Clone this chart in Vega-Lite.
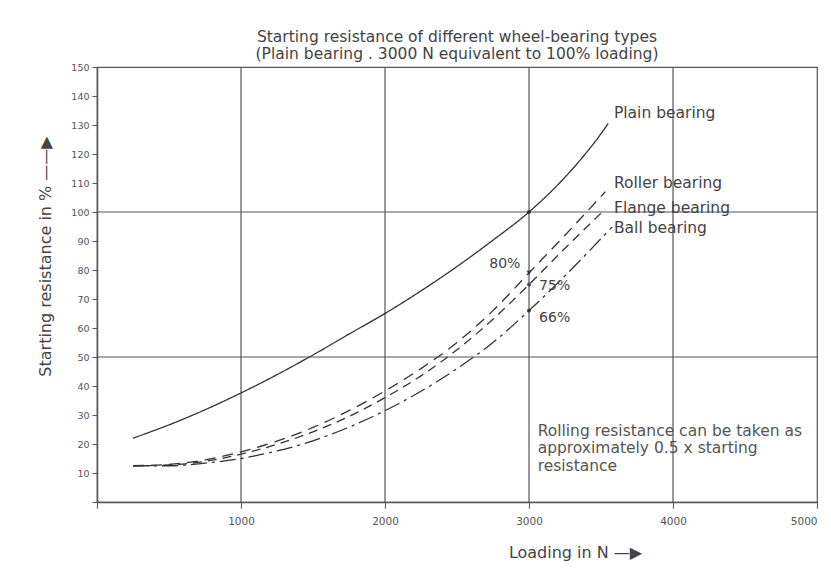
{
  "$schema": "https://vega.github.io/schema/vega-lite/v6.json",
  "width": 720,
  "height": 435,
  "autosize": {"type": "none"},
  "padding": {"left": 97, "top": 67, "right": 14, "bottom": 72},
  "background": "white",
  "config": {
    "view": {"stroke": "#555", "strokeWidth": 1.2},
    "font": "DejaVu Sans"
  },
  "title": {
    "text": ["Starting resistance of different wheel-bearing types", "(Plain bearing . 3000 N equivalent to 100% loading)"],
    "fontSize": 15.5,
    "fontWeight": "normal",
    "color": "#444",
    "lineHeight": 17,
    "offset": 0,
    "anchor": "middle"
  },
  "datasets": {
    "curves": [
      {"series": "Plain bearing", "load": 250, "res": 22},
      {"series": "Plain bearing", "load": 500, "res": 26.6},
      {"series": "Plain bearing", "load": 750, "res": 31.8},
      {"series": "Plain bearing", "load": 1000, "res": 37.6},
      {"series": "Plain bearing", "load": 1250, "res": 43.9},
      {"series": "Plain bearing", "load": 1500, "res": 50.7},
      {"series": "Plain bearing", "load": 1750, "res": 57.9},
      {"series": "Plain bearing", "load": 2000, "res": 65},
      {"series": "Plain bearing", "load": 2250, "res": 72.8},
      {"series": "Plain bearing", "load": 2500, "res": 81.2},
      {"series": "Plain bearing", "load": 2750, "res": 90.3},
      {"series": "Plain bearing", "load": 3000, "res": 100},
      {"series": "Plain bearing", "load": 3250, "res": 112},
      {"series": "Plain bearing", "load": 3500, "res": 127},
      {"series": "Plain bearing", "load": 3550, "res": 130.5},
      {"series": "Roller bearing", "load": 250, "res": 12.5},
      {"series": "Roller bearing", "load": 500, "res": 13},
      {"series": "Roller bearing", "load": 750, "res": 14.5},
      {"series": "Roller bearing", "load": 1000, "res": 17.3},
      {"series": "Roller bearing", "load": 1250, "res": 21},
      {"series": "Roller bearing", "load": 1500, "res": 25.7},
      {"series": "Roller bearing", "load": 1750, "res": 31.5},
      {"series": "Roller bearing", "load": 2000, "res": 38.3},
      {"series": "Roller bearing", "load": 2250, "res": 46},
      {"series": "Roller bearing", "load": 2500, "res": 55},
      {"series": "Roller bearing", "load": 2750, "res": 66},
      {"series": "Roller bearing", "load": 3000, "res": 79},
      {"series": "Roller bearing", "load": 3250, "res": 92},
      {"series": "Roller bearing", "load": 3530, "res": 107},
      {"series": "Flange bearing", "load": 250, "res": 12.5},
      {"series": "Flange bearing", "load": 500, "res": 12.8},
      {"series": "Flange bearing", "load": 750, "res": 14},
      {"series": "Flange bearing", "load": 1000, "res": 16.5},
      {"series": "Flange bearing", "load": 1250, "res": 19.9},
      {"series": "Flange bearing", "load": 1500, "res": 24.2},
      {"series": "Flange bearing", "load": 1750, "res": 29.5},
      {"series": "Flange bearing", "load": 2000, "res": 36},
      {"series": "Flange bearing", "load": 2250, "res": 43.5},
      {"series": "Flange bearing", "load": 2500, "res": 52.5},
      {"series": "Flange bearing", "load": 2750, "res": 63},
      {"series": "Flange bearing", "load": 3000, "res": 75},
      {"series": "Flange bearing", "load": 3250, "res": 87.5},
      {"series": "Flange bearing", "load": 3530, "res": 101},
      {"series": "Ball bearing", "load": 250, "res": 12.5},
      {"series": "Ball bearing", "load": 500, "res": 12.5},
      {"series": "Ball bearing", "load": 750, "res": 13.4},
      {"series": "Ball bearing", "load": 1000, "res": 15},
      {"series": "Ball bearing", "load": 1250, "res": 17.6},
      {"series": "Ball bearing", "load": 1500, "res": 21.1},
      {"series": "Ball bearing", "load": 1750, "res": 25.8},
      {"series": "Ball bearing", "load": 2000, "res": 31.5},
      {"series": "Ball bearing", "load": 2250, "res": 38.2},
      {"series": "Ball bearing", "load": 2500, "res": 46},
      {"series": "Ball bearing", "load": 2750, "res": 55},
      {"series": "Ball bearing", "load": 3000, "res": 66},
      {"series": "Ball bearing", "load": 3250, "res": 78},
      {"series": "Ball bearing", "load": 3580, "res": 95}
    ],
    "hgrid": [{"res": 50}, {"res": 100}],
    "vgrid": [{"load": 1000}, {"load": 2000}, {"load": 3000}, {"load": 4000}],
    "points": [
      {"load": 3000, "res": 100, "kind": "dot"},
      {"load": 3000, "res": 79, "kind": "arrow"},
      {"load": 3000, "res": 75, "kind": "dot"},
      {"load": 3000, "res": 66, "kind": "dot"}
    ],
    "labels": [
      {"text": "Plain bearing", "load": 3590, "res": 134, "kind": "series"},
      {"text": "Roller bearing", "load": 3590, "res": 110, "kind": "series"},
      {"text": "Flange bearing", "load": 3590, "res": 101.5, "kind": "series"},
      {"text": "Ball bearing", "load": 3590, "res": 94.5, "kind": "series"},
      {"text": "80%", "load": 2940, "res": 82, "kind": "left"},
      {"text": "75%", "load": 3070, "res": 74.5, "kind": "pct"},
      {"text": "66%", "load": 3070, "res": 63.5, "kind": "pct"},
      {"text": "Rolling resistance can be taken as", "load": 3060, "res": 24.5, "kind": "note"},
      {"text": "approximately 0.5 x starting", "load": 3060, "res": 18.5, "kind": "note"},
      {"text": "resistance", "load": 3060, "res": 12.5, "kind": "note"}
    ]
  },
  "encoding": {
    "x": {
      "field": "load", "type": "quantitative",
      "scale": {"domain": [0, 5000], "nice": false, "zero": false},
      "axis": {
        "values": [0, 1000, 2000, 3000, 4000, 5000],
        "labelExpr": "datum.value == 0 ? '' : datum.value",
        "grid": false,
        "domainColor": "#555", "domainWidth": 1.5,
        "tickColor": "#555", "tickSize": 6,
        "labelColor": "#555", "labelFontSize": 10.5, "labelPadding": 8,
        "title": "Loading in N —▶",
        "titleFontSize": 16, "titleFontWeight": "normal", "titleColor": "#444",
        "titleX": 478, "titleY": 50, "titleAlign": "center", "titleBaseline": "middle"
      }
    },
    "y": {
      "field": "res", "type": "quantitative",
      "scale": {"domain": [0, 150], "nice": false},
      "axis": {
        "values": [0, 10, 20, 30, 40, 50, 60, 70, 80, 90, 100, 110, 120, 130, 140, 150],
        "labelExpr": "datum.value == 0 ? '' : datum.value",
        "grid": false,
        "domainColor": "#555", "domainWidth": 1.5,
        "tickColor": "#555", "tickSize": 5,
        "labelColor": "#555", "labelFontSize": 9.5, "labelPadding": 3,
        "title": "Starting resistance in % ——▶",
        "titleFontSize": 16, "titleFontWeight": "normal", "titleColor": "#444",
        "titleX": -52, "titleY": 189, "titleAlign": "center", "titleBaseline": "middle", "titleAngle": -90
      }
    }
  },
  "layer": [
    {
      "data": {"name": "hgrid"},
      "mark": {"type": "rule", "color": "#555", "strokeWidth": 1.2},
      "encoding": {"x": null}
    },
    {
      "data": {"name": "vgrid"},
      "mark": {"type": "rule", "color": "#555", "strokeWidth": 1.2},
      "encoding": {"y": null}
    },
    {
      "data": {"name": "curves"},
      "mark": {"type": "line", "interpolate": "monotone", "color": "#333", "strokeWidth": 1.3},
      "encoding": {
        "detail": {"field": "series"},
        "strokeDash": {
          "field": "series", "type": "nominal",
          "scale": {
            "domain": ["Plain bearing", "Roller bearing", "Flange bearing", "Ball bearing"],
            "range": [[1, 0], [11, 7], [9, 6], [16, 5, 3, 5]]
          },
          "legend": null
        }
      }
    },
    {
      "data": {"name": "points"},
      "transform": [{"filter": "datum.kind == 'dot'"}],
      "mark": {"type": "point", "filled": true, "color": "#222", "size": 18}
    },
    {
      "data": {"name": "points"},
      "transform": [{"filter": "datum.kind == 'arrow'"}],
      "mark": {"type": "point", "filled": true, "color": "#222", "size": 30, "shape": "triangle-down"}
    },
    {
      "data": {"name": "labels"},
      "transform": [{"filter": "datum.kind == 'series'"}],
      "mark": {"type": "text", "align": "left", "baseline": "middle", "fontSize": 15.5, "color": "#444"},
      "encoding": {"text": {"field": "text"}}
    },
    {
      "data": {"name": "labels"},
      "transform": [{"filter": "datum.kind == 'pct'"}],
      "mark": {"type": "text", "align": "left", "baseline": "middle", "fontSize": 14, "color": "#444"},
      "encoding": {"text": {"field": "text"}}
    },
    {
      "data": {"name": "labels"},
      "transform": [{"filter": "datum.kind == 'left'"}],
      "mark": {"type": "text", "align": "right", "baseline": "middle", "fontSize": 14, "color": "#444"},
      "encoding": {"text": {"field": "text"}}
    },
    {
      "data": {"name": "labels"},
      "transform": [{"filter": "datum.kind == 'note'"}],
      "mark": {"type": "text", "align": "left", "baseline": "middle", "fontSize": 15.5, "color": "#555"},
      "encoding": {"text": {"field": "text"}}
    }
  ]
}
